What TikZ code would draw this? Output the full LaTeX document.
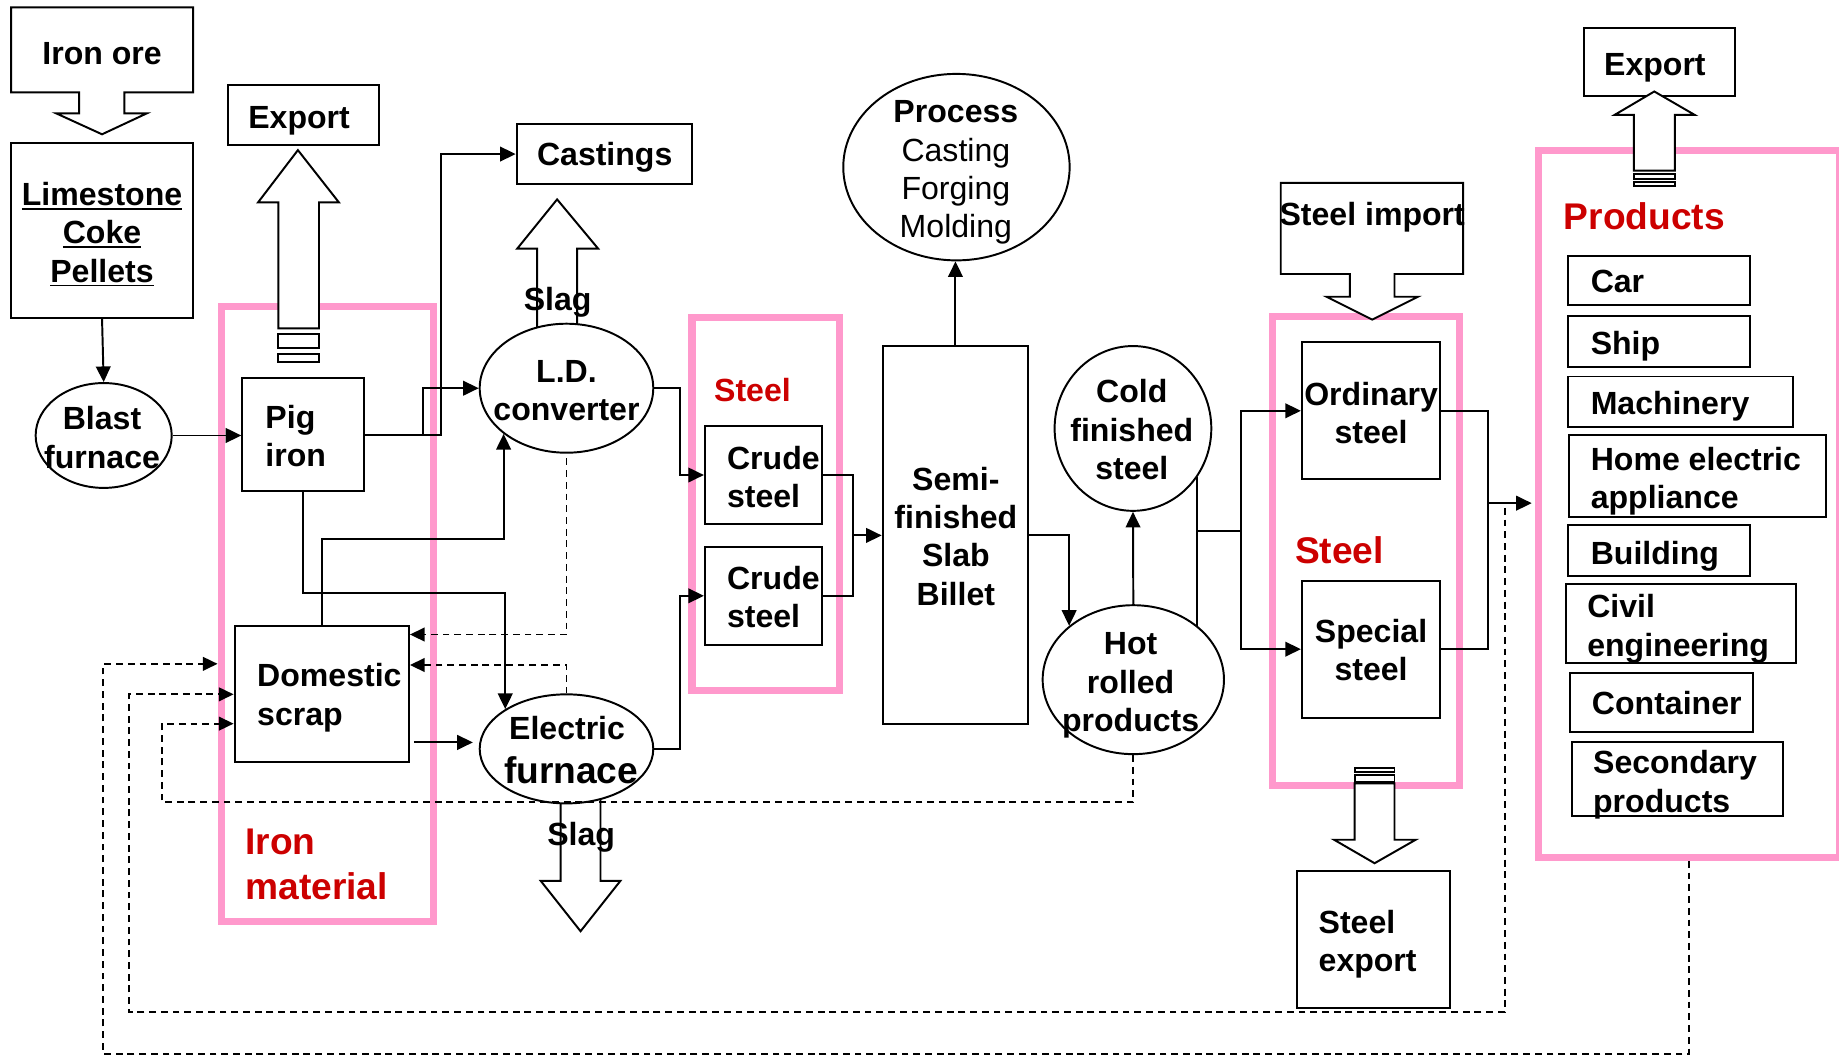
\documentclass[tikz,border=0pt]{standalone}
\usepackage{fontspec}
\setmainfont{Liberation Sans}
\usetikzlibrary{arrows.meta}
\usetikzlibrary{shapes.geometric}
\definecolor{pinkline}{RGB}{255,153,204}
\definecolor{redlbl}{RGB}{204,0,0}
\newcommand{\txtsz}{\bfseries\fontsize{16.4}{19.6}\selectfont}
\newcommand{\bigsz}{\bfseries\fontsize{19}{22.8}\selectfont}
\newsavebox{\ulsave}
\newcommand{\ulin}[1]{\leavevmode\sbox{\ulsave}{#1}\rlap{\vrule height -1.3pt depth 2.2pt width \wd\ulsave}\usebox{\ulsave}}
\tikzset{
  blk/.style 2 args={draw, line width=1pt, inner sep=0pt, minimum width=#1*0.6pt, minimum height=#2*0.6pt},
  oval/.style 2 args={draw, ellipse, line width=1pt, inner sep=0pt, minimum width=#1*0.6pt, minimum height=#2*0.6pt},
  pinkbox/.style 2 args={draw=pinkline, line width=3.6pt, inner sep=0pt, minimum width=#1*0.6pt, minimum height=#2*0.6pt},
  lbl/.style={inner sep=0pt, font=\txtsz, align=center},
  lbll/.style={inner sep=0pt, font=\txtsz, align=left, anchor=west},
  arr/.style={line width=1pt, -{Triangle[length=8pt,width=7.5pt]}},
  darr/.style={line width=0.9pt, dash pattern=on 3.5pt off 2.5pt, -{Triangle[length=7.5pt,width=7pt]}},
  hollow/.style={line width=1pt, fill=white}
}

\begin{document}
\begin{tikzpicture}[x=0.6pt,y=0.6pt,yscale=-1,xscale=1]
\useasboundingbox (0,0) rectangle (1568,900);

% Pink groups
\node (ironmat) [pinkbox={181.5}{525}] at (279.25,523.5) {};
\node (steelgrp) [pinkbox={126}{318.3}] at (653,429.85) {};
\node (steelgrp2) [pinkbox={159}{400}] at (1164.5,470) {};
\node (prod) [pinkbox={256}{603}] at (1440,429.5) {};

% Boxes
\node (lime) [blk={155.2}{149}] at (87,196.5) {};
\node (exp1) [blk={129.5}{51.5}] at (258.75,98.25) {};
\node (cast) [blk={149.5}{51.3}] at (515.25,131.35) {};
\node (pig) [blk={104.1}{97}] at (258.65,370.5) {};
\node (scrap) [blk={148.7}{116}] at (274.35,592) {};
\node (crude1) [blk={100}{84}] at (651,405) {};
\node (crude2) [blk={100}{84}] at (651,508) {};
\node (semi) [blk={124.1}{322}] at (814.65,456) {};
\node (ord) [blk={118}{116.5}] at (1169,350.25) {};
\node (spec) [blk={118}{117}] at (1169,553.5) {};
\node (sexp) [blk={130.5}{116.5}] at (1171.25,801.25) {};
\node (exp2) [blk={129}{58}] at (1415,53) {};
\node (car) [blk={155}{42}] at (1414.5,239) {};
\node (ship) [blk={155}{43.2}] at (1414.5,291.1) {};
\node (mach) [blk={192}{43}] at (1433,342.5) {};
\node (home) [blk={219}{69.6}] at (1447.5,405.8) {};
\node (build) [blk={155}{43}] at (1414.5,469.5) {};
\node (civil) [blk={196}{67}] at (1433,531.5) {};
\node (cont) [blk={156}{50}] at (1417,599) {};
\node (second) [blk={180}{62.5}] at (1430,664.25) {};

% Ellipses
\node (bf) [oval={116}{89.4}] at (88.4,371.3) {};
\node (ld) [oval={148}{110}] at (483,331) {};
\node (ef) [oval={148}{93}] at (483,638.5) {};
\node (process) [oval={193}{159}] at (815.5,142.5) {};
\node (cold) [oval={133.6}{140.5}] at (966,365.3) {};
\node (hot) [oval={154.6}{127}] at (966.3,579.5) {};

% Block arrows
\draw [hollow] (9.4,6.3) -- (164.6,6.3) -- (164.6,78.8) -- (106,78.8) -- (106,96.6) -- (125.3,96.6) -- (87,114.5) -- (47.8,96.6) -- (67.4,96.6) -- (67.4,78.8) -- (9.4,78.8) -- cycle;
\draw [hollow] (237.4,280) -- (237.4,172.6) -- (220,172.6) -- (254,128) -- (289,172.6) -- (272,172.6) -- (272,280) -- cycle;
\draw [hollow] (237.4,285) rectangle (272,297);
\draw [hollow] (237.4,302) rectangle (272,308.6);
\draw [line width=1pt] (458,279.2) -- (458,212) -- (441,212) -- (475,170) -- (510,212) -- (492,212) -- (492,276.4);
\draw [line width=1pt] (478,685.3) -- (478,751) -- (461,751) -- (495,794) -- (529,751) -- (512,751) -- (512,681.3);
\draw [hollow] (1092,156) -- (1247.5,156) -- (1247.5,233.6) -- (1189,233.6) -- (1189,253) -- (1209,253) -- (1170,272.5) -- (1131,253) -- (1151,253) -- (1151,233.6) -- (1092,233.6) -- cycle;
\draw [hollow] (1155,668) -- (1155,716) -- (1137.5,716) -- (1172,736) -- (1207,716) -- (1189,716) -- (1189,668) -- cycle;
\draw [hollow] (1155,655) rectangle (1189,658);
\draw [hollow] (1155,661) rectangle (1189,667);
\draw [hollow] (1393,145.5) -- (1393,98) -- (1376.6,98) -- (1410.5,78) -- (1445,98) -- (1428,98) -- (1428,145.5) -- cycle;
\draw [hollow] (1393,148) rectangle (1428,153);
\draw [hollow] (1393,155) rectangle (1428,158.5);

% Junctions
\coordinate (cj) at (727,456.5);
\coordinate (oj) at (1058,453);
\coordinate (pj) at (1269,429);
\coordinate (ldy) at (0,541);
\coordinate (efy) at (0,567);
\coordinate (hy) at (0,617);
\coordinate (py) at (0,566);
\coordinate (sy) at (0,633);

% Connectors
\draw [arr] (lime.south) -- (bf.north);
\draw [arr] (bf.east) -- (pig.west |- bf.east);
\draw [arr] (pig.east) -- ++(64.3,0) |- (cast.west);
\draw [arr] (pig.east) -- ++(49,0) |- (ld.west);
\draw [arr] (pig.south) -- ++(0,86) -| (ef.147.6);
\draw [arr] (scrap.north) -- ++(0,-74) -| (ld.216.9);
\draw [arr, shorten <=2pt, shorten >=3pt] (scrap.east |- sy) -- (ef.west |- sy);
\draw [arr] (ld.east) -- ++(22,0) |- (crude1.west);
\draw [arr] (ef.east) -- ++(22,0) |- (crude2.west);
\draw [line width=1pt] (crude1.east) -| (cj) |- (crude2.east);
\draw [arr] (cj) -- (semi.west |- cj);
\draw [arr] (semi.north) -- (semi.north |- process.south);
\draw [arr] (semi.east) -| (hot.140.2);
\draw [arr] (hot.north) -- (cold.south);
\draw [line width=1pt] (cold.-37.4) -- (cold.-37.4 |- hot.40);
\draw [line width=1pt] (cold.-37.4 |- oj) -- (oj);
\draw [arr] (oj) |- (ord.west);
\draw [arr] (oj) |- (spec.west);
\draw [line width=1pt] (ord.east) -| (pj) |- (spec.east);
\draw [arr, shorten >=1.8pt] (pj) -- (prod.west |- pj);

% Dashed return lines
\draw [darr] (ld.south) ++(0,4) |- (scrap.east |- ldy);
\draw [darr] (ef.north) |- (scrap.east |- efy);
\draw [darr] (hot.south) |- (138,684) |- (scrap.west |- hy);
\draw [darr] (pj) ++(14,4) |- (110,863) |- (scrap.west);
\draw [darr] (prod.south) |- (88,898.5) |- (ironmat.west |- py);

% Text Node
\node (ironoretxt) [lbl] at (87,46) {Iron ore};
\node (limetxt) [lbl] at (87,199.7) {\ulin{Limestone}\\\ulin{Coke}\\\ulin{Pellets}};
\node (bftxt) [lbl] at (87,373) {Blast\\furnace};
\node (exp1txt) [lbl] at (255,103) {Export};
\node (casttxt) [lbl] at (515.6,134.5) {Castings};
\node (pigtxt) [lbll] at (226,372) {Pig\\iron};
\node (slagtxt) [lbl] at (475.5,258) {Slag};
\node (ldtxt) [lbl] at (483,333) {L.D.\\converter};
\node (steeltxt) [lbl, text=redlbl] at (641.6,332.6) {Steel};
\node (crude1txt) [lbll] at (619.6,406.5) {Crude\\steel};
\node (crude2txt) [lbll] at (619.6,509) {Crude\\steel};
\node (semitxt) [lbl] at (815,457.3) {Semi-\\finished\\Slab\\Billet};
\node (processtxt) [lbl, font=\mdseries\fontsize{16.4}{19.6}\selectfont] at (815,147.2) {{\bfseries Process}\\Casting\\Forging\hspace*{12pt}\\Molding};
\node (coldtxt) [lbl] at (965,366.3) {Cold\\finished\\steel};
\node (hottxt) [lbl] at (964,584.4) {Hot\\rolled\\products};
\node (scraptxt) [lbll] at (219,595) {Domestic\\scrap};
\node (eftxt) [lbl] at (483.5,621) {Electric};
\node (eftxt2) [lbl, font=\bigsz] at (487,657) {furnace};
\node (ironmattxt) [lbll, font=\bigsz, text=redlbl] at (209,737) {Iron\\material};
\node (slag2txt) [lbl] at (495.5,714) {Slag};
\node (imptxt) [lbl] at (1170,185.6) {Steel import};
\node (ordtxt) [lbl] at (1169,352) {Ordinary\\steel};
\node (steeltxt2) [lbl, font=\bigsz, text=redlbl] at (1142,469.5) {Steel};
\node (spectxt) [lbl] at (1169,554) {Special\\steel};
\node (sexptxt) [lbll] at (1124,805) {Steel\\export};
\node (exp2txt) [lbl] at (1411,57.6) {Export};
\node (prodtxt) [lbll, font=\bigsz, text=redlbl] at (1333,184.6) {Products};
\node (cartxt) [lbll] at (1356,240) {Car};
\node (shiptxt) [lbll] at (1356,295.6) {Ship};
\node (machtxt) [lbll] at (1356,346.7) {Machinery};
\node (hometxt) [lbll] at (1356,410) {Home electric\\appliance};
\node (buildtxt) [lbll] at (1356,474.6) {Building};
\node (civiltxt) [lbll] at (1353,536) {Civil\\engineering};
\node (conttxt) [lbll] at (1357,599.6) {Container};
\node (secondtxt) [lbll] at (1358,669) {Secondary\\products};

\end{tikzpicture}
\end{document}
